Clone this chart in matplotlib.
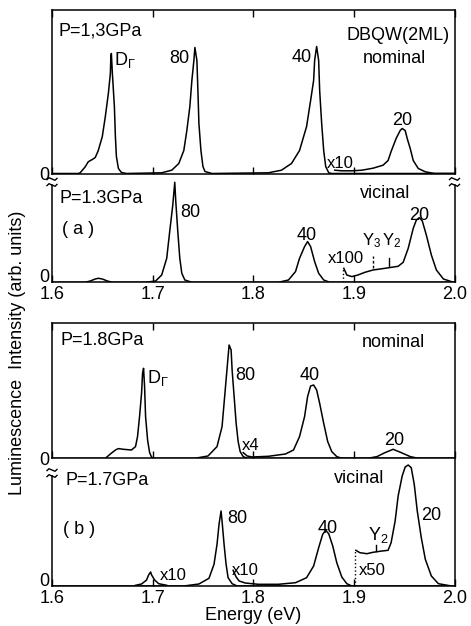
import matplotlib; matplotlib.use("Agg")
import matplotlib.pyplot as plt
from matplotlib.lines import Line2D
from matplotlib.transforms import ScaledTranslation

plt.rcParams['font.family'] = ['Liberation Sans', 'DejaVu Sans']
plt.rcParams['mathtext.fontset'] = 'custom'
plt.rcParams['mathtext.rm'] = 'Liberation Sans'
plt.rcParams['mathtext.it'] = 'Liberation Sans'

W, H = 471, 626
FS = 13

# ---- (a) P=1.3GPa nominal ----
a_nom_E = [1.600, 1.626, 1.628, 1.633, 1.636, 1.640, 1.643, 1.646, 1.650, 1.653, 1.656, 1.658, 1.6585, 1.659,
           1.660, 1.662, 1.663, 1.664, 1.666, 1.669, 1.674,
           1.709, 1.719, 1.726, 1.731, 1.734, 1.737, 1.739, 1.741, 1.742, 1.744, 1.745, 1.746, 1.748, 1.750, 1.752, 1.759,
           1.815, 1.828, 1.838, 1.846, 1.853, 1.857, 1.860, 1.861, 1.863, 1.865, 1.866, 1.868, 1.870, 1.872, 1.875, 1.878,
           2.000]
a_nom_I = [0, 0, 0.7, 6.7, 11.7, 14, 16, 23, 37, 57, 80, 100, 117, 120,
           100, 67, 37, 17, 5, 1, 0,
           0.7, 3.3, 10, 23, 43, 67, 93, 113, 126, 113, 83, 50, 23, 7, 2, 0,
           0.7, 3.3, 10, 23, 47, 73, 93, 113, 127, 113, 83, 50, 23, 7, 0.7, 0,
           0]
a_nom_x10_E = [1.881, 1.888, 1.898, 1.908, 1.919, 1.929, 1.934, 1.937, 1.942, 1.946, 1.948, 1.951, 1.953, 1.956,
               1.959, 1.964, 1.971, 1.980, 2.000]
a_nom_x10_I = [3.3, 2.7, 2.7, 3.3, 5.3, 8.3, 13, 22, 35, 43, 45, 43, 35, 25, 13, 5, 1.7, 0, 0]

# ---- (a) P=1.3GPa vicinal ----
a_vic_E = [1.600, 1.633, 1.638, 1.643, 1.646, 1.650, 1.655, 1.660,
           1.693, 1.703, 1.709, 1.714, 1.717, 1.720, 1.722, 1.723, 1.725, 1.727, 1.729, 1.732, 1.739,
           1.825, 1.835, 1.842, 1.846, 1.851, 1.854, 1.857, 1.861, 1.865, 1.870, 1.876, 2.000]
a_vic_I = [0, 0, 1.3, 3.3, 4, 3.3, 1.3, 0,
           0, 1.3, 7.3, 24, 51, 77, 100, 81, 51, 24, 9, 2.3, 0,
           0, 2.3, 10.7, 24, 35.7, 40.7, 35.7, 20.7, 9, 2.3, 0, 0]
a_vic_x100_E = [1.890, 1.893, 1.898, 1.904, 1.911, 1.919, 1.931, 1.944, 1.949, 1.954, 1.959, 1.962, 1.965, 1.968,
                1.972, 1.977, 1.982, 1.989, 1.999]
a_vic_x100_I = [14, 7.3, 5.7, 7.3, 10, 12.3, 14, 16, 20, 34, 54, 62, 64.7, 61.3, 47.3, 27.3, 12.3, 3.3, 0]

# ---- (b) P=1.8GPa nominal ----
b_nom_E = [1.600, 1.653, 1.658, 1.663, 1.666, 1.671, 1.679, 1.683, 1.685, 1.687, 1.689, 1.690, 1.691, 1.692,
           1.693, 1.695, 1.697, 1.699, 1.703,
           1.742, 1.755, 1.764, 1.769, 1.771, 1.773, 1.775, 1.776, 1.778, 1.779, 1.781, 1.783, 1.785, 1.787, 1.790,
           1.794, 2.000]
b_nom_I = [0, 0, 4.3, 8.3, 9.7, 9, 8.3, 11.7, 21.7, 41.7, 65, 85, 90, 71.7,
           41.7, 18.3, 5.7, 1, 0,
           0, 2.3, 11.7, 31.7, 55, 78.3, 101.7, 113.3, 108.3, 88.3, 61.7, 35, 16.7, 6.7, 1.7,
           0, 0]
b_nom_x4_E = [1.790, 1.794, 1.799, 1.815, 1.832, 1.840, 1.846, 1.851, 1.854, 1.857, 1.860, 1.863, 1.866, 1.870,
              1.874, 1.878, 1.883, 1.888, 1.914, 1.923, 1.931, 1.939, 1.947, 1.956, 1.964, 2.000]
b_nom_x4_I = [5.7, 2.3, 1.3, 2, 4.3, 8.3, 21.7, 41.7, 61.7, 72.3, 73.3, 68.3, 55, 35,
              16.7, 6.7, 1.7, 0, 0, 1.7, 5.7, 9, 5.7, 1.7, 0, 0]

# ---- (b) P=1.7GPa vicinal ----
b_vic_E = [1.600, 1.731, 1.746, 1.756, 1.761, 1.764, 1.766, 1.768, 1.769, 1.771, 1.773, 1.775, 1.779, 1.784, 2.000]
b_vic_I = [0, 0, 2, 7.7, 21.7, 41.7, 61.7, 75, 65, 41.7, 21.7, 8.3, 2.3, 0, 0]
b_vic_x10a_E = [1.683, 1.689, 1.694, 1.696, 1.698, 1.699, 1.702, 1.706, 1.714]
b_vic_x10a_I = [0.7, 2, 6, 11, 14, 11, 6, 2.3, 0.7]
b_vic_x10b_E = [1.780, 1.783, 1.786, 1.792, 1.805, 1.825, 1.842, 1.853, 1.860, 1.865, 1.869, 1.872, 1.875, 1.879,
                1.883, 1.888, 1.893, 1.898]
b_vic_x10b_I = [15.7, 9, 5, 3, 1.7, 1.7, 3.3, 8.3, 20, 38.3, 51.7, 55.7, 52.3, 40, 23.3, 9, 2.3, 0]
b_vic_x50_E = [1.902, 1.906, 1.913, 1.919, 1.928, 1.934, 1.937, 1.941, 1.944, 1.948, 1.951, 1.954, 1.957, 1.960,
               1.963, 1.967, 1.971, 1.977, 1.984, 1.997]
b_vic_x50_I = [35.7, 33.3, 32.3, 33.7, 35, 35.7, 43.3, 65, 90, 110, 119, 121, 118.3, 101.7,
               75, 48.3, 26.7, 10, 2.3, 0]

xticks = [1.6, 1.7, 1.8, 1.9, 2.0]
xticklabels = ["1.6", "1.7", "1.8", "1.9", "2.0"]

fig = plt.figure(figsize=(W / 100, H / 100), dpi=100)


def axes_px(top, bottom, left=52, right=454.5):
    return fig.add_axes([left / W, 1 - bottom / H, (right - left) / W, (bottom - top) / H])


def setup(ax, ytop, labels):
    ax.set_xlim(1.6, 2.0)
    ax.set_ylim(0, ytop)
    ax.set_xticks(xticks)
    ax.set_yticks([0])
    ax.set_yticklabels(["0"])
    ax.tick_params(axis="y", length=0, pad=2, labelsize=FS)
    ax.tick_params(axis="x", direction="in", length=5, width=1, top=not labels,
                   labelbottom=labels, labelsize=FS, pad=3)
    if labels:
        ax.set_xticklabels(xticklabels)
        # lift the "0" so it clears the 1.6 label, as in the original
        for t in ax.get_yticklabels():
            t.set_transform(t.get_transform() + ScaledTranslation(0, 6.5 / 100, fig.dpi_scale_trans))
    for s in ax.spines.values():
        s.set_linewidth(1.1)


def tilde(xp, yp):
    dx = [-5, -3, -1, 1, 3, 5]
    dy = [0.6, -1.3, -0.4, 0.4, 1.3, -0.6]
    fig.add_artist(Line2D([(xp + a) / W for a in dx], [1 - (yp + b) / H for b in dy],
                          transform=fig.transFigure, color="k", lw=1))


LW = 1.1

# ---------- panel (a) ----------
a1 = axes_px(10, 173.5)
setup(a1, 163.5, False)
a1.plot(a_nom_E, a_nom_I, color="k", lw=LW)
a1.plot(a_nom_x10_E, a_nom_x10_I, color="k", lw=LW)
a1.text(1.606, 138.5, "P=1,3GPa", fontsize=FS, ha="left", va="baseline")
a1.text(1.995, 133.5, "DBQW(2ML)", fontsize=FS, ha="right", va="baseline")
a1.text(1.940, 110.5, "nominal", fontsize=FS, ha="center", va="baseline")
a1.text(1.6615, 108.5, r"D$_{\Gamma}$", fontsize=FS, ha="left", va="baseline")
a1.text(1.737, 110.5, "80", fontsize=FS, ha="right", va="baseline")
a1.text(1.858, 111.5, "40", fontsize=FS, ha="right", va="baseline")
a1.text(1.948, 48.5, "20", fontsize=FS, ha="center", va="baseline")
a1.text(1.873, 5.5, "x10", fontsize=12, ha="left", va="baseline")

a2 = axes_px(176, 282.3)
setup(a2, 106.3, True)
a2.spines["top"].set_visible(False)
a2.spines["left"].set_bounds(0, 97.3)
a2.spines["right"].set_bounds(0, 97.3)
a2.plot(a_vic_E, a_vic_I, color="k", lw=LW)
a2.plot(a_vic_x100_E, a_vic_x100_I, color="k", lw=LW)
a2.plot([1.889, 1.889], [0, 14], color="k", lw=1, ls=":")
a2.plot([1.919, 1.919], [14, 26], color="k", lw=1, ls=(0, (2, 1.5)))
a2.plot([1.935, 1.935], [16.7, 24.7], color="k", lw=1)
a2.text(1.607, 79.3, "P=1.3GPa", fontsize=FS, ha="left", va="baseline")
a2.text(1.626, 53, "( a )", fontsize=FS, ha="center", va="center")
a2.text(1.727, 65.3, "80", fontsize=FS, ha="left", va="baseline")
a2.text(1.931, 84.3, "vicinal", fontsize=FS, ha="center", va="baseline")
a2.text(1.853, 42.3, "40", fontsize=FS, ha="center", va="baseline")
a2.text(1.910, 19.3, "x100", fontsize=12, ha="right", va="baseline")
a2.text(1.9175, 37.3, r"Y$_3$", fontsize=12, ha="center", va="baseline")
a2.text(1.9375, 37.3, r"Y$_2$", fontsize=12, ha="center", va="baseline")
a2.text(1.965, 62.3, "20", fontsize=FS, ha="center", va="baseline")
tilde(52, 179); tilde(52, 185)
tilde(454.5, 179); tilde(454.5, 185)

# ---------- panel (b) ----------
b1 = axes_px(323, 458.3)
setup(b1, 135.3, False)
b1.plot(b_nom_E, b_nom_I, color="k", lw=LW)
b1.plot(b_nom_x4_E, b_nom_x4_I, color="k", lw=LW)
b1.text(1.608, 113.3, "P=1.8GPa", fontsize=FS, ha="left", va="baseline")
b1.text(1.939, 111.3, "nominal", fontsize=FS, ha="center", va="baseline")
b1.text(1.694, 75.3, r"D$_{\Gamma}$", fontsize=FS, ha="left", va="baseline")
b1.text(1.782, 78.3, "80", fontsize=FS, ha="left", va="baseline")
b1.text(1.856, 78.3, "40", fontsize=FS, ha="center", va="baseline")
b1.text(1.789, 8.3, "x4", fontsize=12, ha="left", va="baseline")
b1.text(1.940, 13.3, "20", fontsize=FS, ha="center", va="baseline")

b2 = axes_px(459, 586)
setup(b2, 127, True)
b2.spines["top"].set_visible(False)
b2.spines["left"].set_bounds(0, 110)
b2.plot(b_vic_E, b_vic_I, color="k", lw=LW)
b2.plot(b_vic_x10a_E, b_vic_x10a_I, color="k", lw=LW)
b2.plot(b_vic_x10b_E, b_vic_x10b_I, color="k", lw=LW)
b2.plot(b_vic_x50_E, b_vic_x50_I, color="k", lw=LW)
b2.plot([1.901, 1.901], [0, 35.7], color="k", lw=1, ls=":")
b2.plot([1.922, 1.922], [35, 41], color="k", lw=1)
b2.text(1.613, 101, "P=1.7GPa", fontsize=FS, ha="left", va="baseline")
b2.text(1.905, 103, "vicinal", fontsize=FS, ha="center", va="baseline")
b2.text(1.627, 56, "( b )", fontsize=FS, ha="center", va="center")
b2.text(1.774, 63, "80", fontsize=FS, ha="left", va="baseline")
b2.text(1.874, 53, "40", fontsize=FS, ha="center", va="baseline")
b2.text(1.924, 46, r"Y$_2$", fontsize=FS, ha="center", va="baseline")
b2.text(1.905, 11, "x50", fontsize=12, ha="left", va="baseline")
b2.text(1.967, 66, "20", fontsize=FS, ha="left", va="baseline")
b2.text(1.707, 6, "x10", fontsize=12, ha="left", va="baseline")
b2.text(1.779, 11, "x10", fontsize=12, ha="left", va="baseline")
b2.set_xlabel("Energy (eV)", fontsize=FS, labelpad=0)
tilde(52, 470); tilde(52, 476)

fig.text(18 / W, 1 - 353 / H, "Luminescence  Intensity (arb. units)", rotation=90,
         ha="center", va="center", fontsize=FS)

fig.savefig("out.png", dpi=100)
